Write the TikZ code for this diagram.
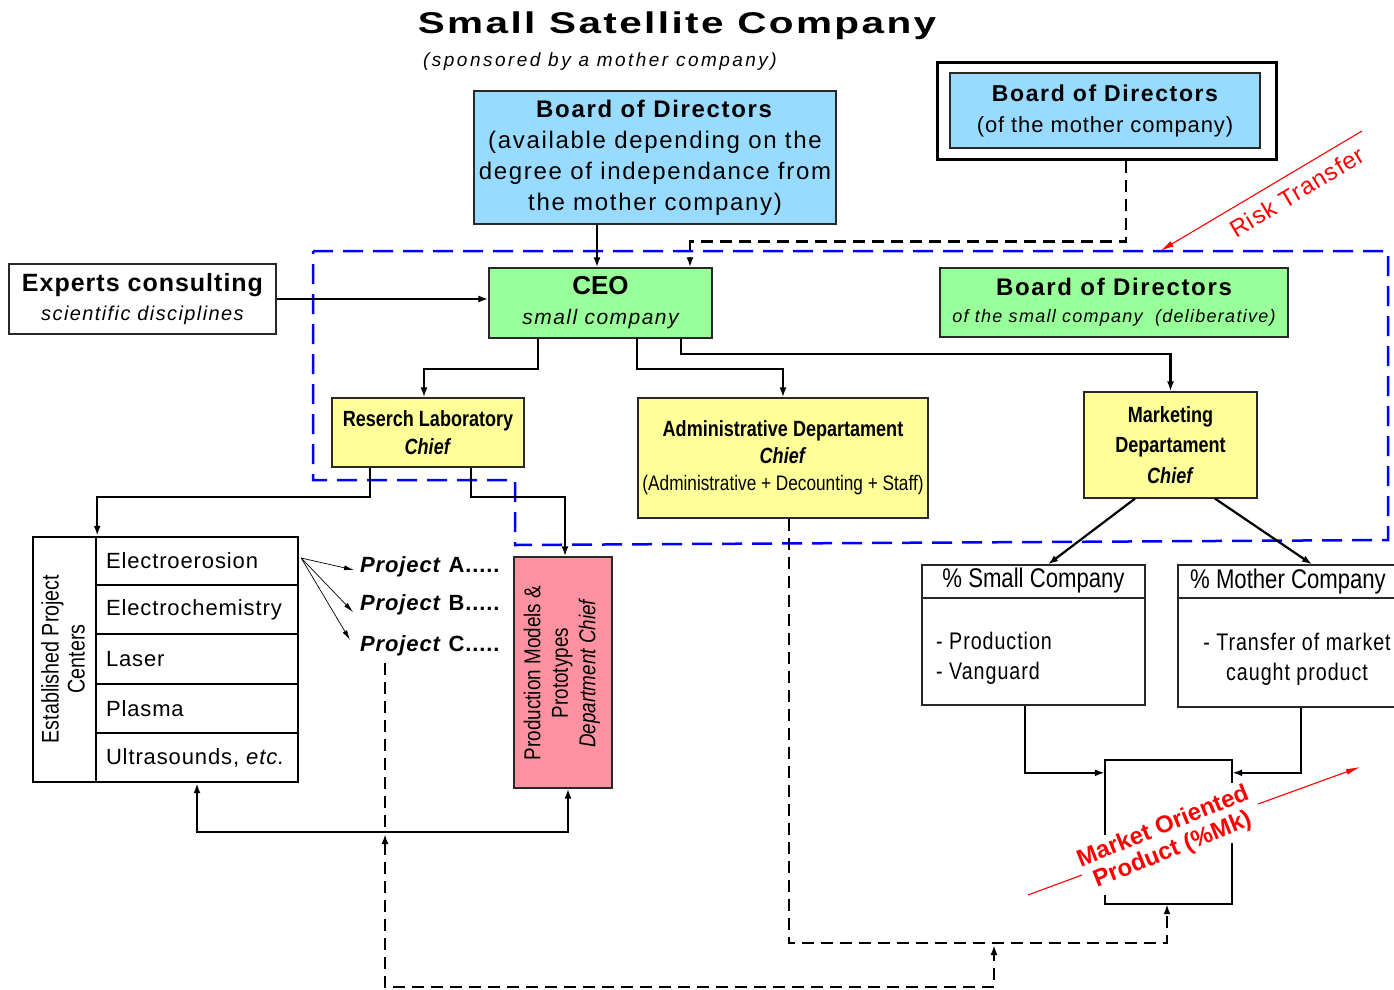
\documentclass[tikz,border=0pt]{standalone}
\usepackage{fontspec}
\setmainfont{Liberation Sans}
\newfontfamily\lsA[LetterSpace=4]{Liberation Sans}
\newfontfamily\lsB[LetterSpace=7]{Liberation Sans}
\newfontfamily\lsC[LetterSpace=13]{Liberation Sans}
\newfontfamily\nrw[FakeStretch=0.82]{Liberation Sans}
\newfontfamily\nrwsp[FakeStretch=0.82,LetterSpace=4]{Liberation Sans}
\newfontfamily\ttl[FakeStretch=1.35,LetterSpace=8]{Liberation Sans}
\usetikzlibrary{arrows.meta,calc}
\newcommand\fsz[2]{\fontsize{#1}{#2}\selectfont}
\definecolor{lblue}{RGB}{153,219,255}
\definecolor{lgreen}{RGB}{153,255,153}
\definecolor{lyellow}{RGB}{255,255,153}
\definecolor{lpink}{RGB}{255,146,160}
\definecolor{bord}{RGB}{40,40,40}
\begin{document}
\begin{tikzpicture}[x=1pt,y=-1pt,
  box/.style={draw=bord,line width=1.2pt,inner sep=0pt,align=center},
  thick box/.style={draw=black,line width=2.4pt,inner sep=0pt},
  conn/.style={draw=black,line width=2.2pt,-{Latex[length=10pt,width=7pt]}},
  dline/.style={draw=black,line width=2.2pt,dash pattern=on 12pt off 7pt},
  dconn/.style={dline,-{Latex[length=10pt,width=7pt]}},
  bluedash/.style={draw=blue,line width=2.5pt,dash pattern=on 20pt off 10pt},
  thinarr/.style={draw=black,line width=0.7pt,-{Latex[length=10pt,width=5pt]}},
  redline/.style={draw=red,line width=1.1pt},
  redarr/.style={redline,-{Latex[length=14pt,width=6pt]}},
  txt/.style={inner sep=0pt,align=center},
  mkline/.style={draw=black,line width=2.4pt},
]
\path[use as bounding box] (0,0) rectangle (1394,989);
\clip (0,0) rectangle (1394,989);
\fill[white] (0,0) rectangle (1394,989);

% blue region
\draw[bluedash] (313,251) -- (1388,251) -- (1388,540) -- (515,545) -- (515,480) -- (313,480) -- cycle;

% titles
\node[txt] (title) at (677,26) {\ttl\bfseries\fsz{30}{30}Small Satellite Company};
\node[txt] (sub) at (600,62) {\lsC\itshape\fsz{19}{19}(sponsored by a mother company)};

% boards
\node[box,fill=lblue,minimum width=362pt,minimum height=133pt,font=\lsB\fsz{24}{31}] (bod) at (655,157.5)
  {\textbf{Board of Directors}\\(available depending on the\\degree of independance from\\the mother company)};
\node[draw=black,line width=3pt,fill=white,minimum width=339pt,minimum height=97pt,inner sep=0pt] (mo) at (1106.5,110.5) {};
\node[box,fill=lblue,minimum width=310pt,minimum height=75pt,font=\lsA\fsz{22}{31}] (moi) at (1105,110.5)
  {{\lsB\bfseries\fsz{23}{31}Board of Directors}\\(of the mother company)};

\node[box,fill=white,minimum width=267pt,minimum height=70pt,font=\fsz{20}{29}] (ex) at (142.5,299)
  {{\lsA\bfseries\fsz{25}{29}Experts consulting}\\{\lsB\itshape scientific disciplines}};
\node[box,fill=lgreen,minimum width=223pt,minimum height=70pt,font=\fsz{21}{30}] (ceo) at (600.5,303)
  {{\bfseries\fsz{26}{30}CEO}\\{\lsB\itshape small company}};
\node[box,fill=lgreen,minimum width=348pt,minimum height=69pt,font=\lsB\fsz{18}{27}] (bods) at (1114,302.5)
  {{\bfseries\fsz{24}{27}Board of Directors}\\{\itshape of the small company\ \ (deliberative)}};

% departments
\node[box,fill=lyellow,minimum width=192pt,minimum height=69pt,font=\nrw\bfseries\fsz{22}{28}] (res) at (428,432.5)
  {Reserch Laboratory\\\textit{Chief}};
\node[box,fill=lyellow,minimum width=290pt,minimum height=120pt,font=\nrw\bfseries\fsz{22}{27}] (adm) at (783,458)
  {Administrative Departament\\\textit{Chief}\\{\mdseries\fsz{21}{27}(Administrative + Decounting + Staff)}};
\node[box,fill=lyellow,minimum width=173pt,minimum height=106pt,font=\nrw\bfseries\fsz{22}{30.5}] (mkt) at (1170.5,445)
  {Marketing\\Departament\\\textit{Chief}};

% established project centers
\node[thick box,minimum width=63pt,minimum height=245pt] (lc) at (64.5,659.5) {};
\node[txt,rotate=90,font=\nrw\fsz{24}{26}] (lct) at (63,659) {Established Project\\Centers};
\node[thick box,minimum width=202pt,minimum height=48pt] (r1) at (197,561) {};
\node[thick box,minimum width=202pt,minimum height=49pt] (r2) at (197,609.5) {};
\node[thick box,minimum width=202pt,minimum height=50pt] (r3) at (197,659) {};
\node[thick box,minimum width=202pt,minimum height=49pt] (r4) at (197,708.5) {};
\node[thick box,minimum width=202pt,minimum height=49pt] (r5) at (197,757.5) {};
\node[txt,anchor=west,font=\lsA\fsz{22}{26}] (t1) at ([xshift=11pt]r1.west) {Electroerosion};
\node[txt,anchor=west,font=\lsA\fsz{22}{26}] (t2) at ([xshift=11pt]r2.west) {Electrochemistry};
\node[txt,anchor=west,font=\lsA\fsz{22}{26}] (t3) at ([xshift=11pt]r3.west) {Laser};
\node[txt,anchor=west,font=\lsA\fsz{22}{26}] (t4) at ([xshift=11pt]r4.west) {Plasma};
\node[txt,anchor=west,font=\lsA\fsz{22}{26}] (t5) at ([xshift=11pt]r5.west) {Ultrasounds, \textit{etc.}};

% projects
\node[txt,anchor=west,font=\lsA\bfseries\fsz{22}{26}] (pa) at (360,567) {\textit{Project} A.....};
\node[txt,anchor=west,font=\lsA\bfseries\fsz{22}{26}] (pb) at (360,605) {\textit{Project} B.....};
\node[txt,anchor=west,font=\lsA\bfseries\fsz{22}{26}] (pc) at (360,646) {\textit{Project} C.....};
\coordinate (ps) at ([xshift=2pt,yshift=3pt]r1.east);
\draw[thinarr] (ps) -- ([xshift=-6pt,yshift=-3pt]pa.west);
\draw[thinarr] (ps) -- ([xshift=-7pt,yshift=-7pt]pb.west);
\draw[thinarr] (ps) -- ([xshift=-10pt,yshift=6pt]pc.west);

% production models
\node[box,fill=lpink,minimum width=98pt,minimum height=231pt] (red) at (563,672.5) {};
\node[txt,rotate=90,font=\nrw\fsz{23}{27.5}] (redt) at (562,673) {Production Models \&\\Prototypes\\\textit{Department Chief}};

% percentage boxes
\node[box,fill=white,minimum width=223pt,minimum height=140pt] (sc) at (1033.5,635) {};
\draw[draw=bord,line width=1.2pt] (sc.west |- 0,598) -- (sc.east |- 0,598);
\node[txt,font=\nrw\fsz{27}{30}] (sch) at (1033.5,581) {\% Small Company};
\node[txt,anchor=west,align=left,font=\nrwsp\fsz{24}{30}] (scb) at (936,658) {- Production\\- Vanguard};
\node[box,fill=white,minimum width=220pt,minimum height=142pt] (mc) at (1288,636) {};
\draw[draw=bord,line width=1.2pt] (mc.west |- 0,598) -- (mc.east |- 0,598);
\node[txt,font=\nrw\fsz{27}{30}] (mch) at (1288,582) {\% Mother Company};
\node[txt,font=\nrwsp\fsz{24}{30}] (mcb) at (1297,659) {- Transfer of market\\caught product};

% market oriented product box
\node[inner sep=0pt,minimum width=127pt,minimum height=144pt] (mk) at (1168.5,832) {};
\draw[mkline] ([yshift=-75pt]mk.north west) -- (mk.north west) -- (mk.north east) -- ([yshift=-23pt]mk.north east);
\draw[mkline] ([yshift=9pt]mk.south west) -- (mk.south west) -- (mk.south east) -- ([yshift=61pt]mk.south east);
\node[txt,rotate=22,text=red,font=\bfseries\fsz{24}{25}] (mot) at (1168,839) {Market Oriented\\Product (\%Mk)};
\coordinate (m1) at (1028,895);
\coordinate (m2) at (1082,875);
\coordinate (m3) at (1258,804);
\coordinate (m4) at (1360,767);
\draw[redline] (m1) -- (m2);
\draw[redarr] (m3) -- (m4);

% risk transfer
\coordinate (rk1) at (1362,131);
\coordinate (rk2) at (1160,251);
\draw[redarr] (rk1) -- (rk2);
\node[txt,rotate=31,text=red,font=\lsA\fsz{24}{24}] (rkt) at (1297,192) {Risk Transfer};

% connectors
\draw[conn] ([xshift=-58pt]bod.south) -- ([xshift=-58pt]bod.south |- ceo.north);
\draw[dconn] ([xshift=19.5pt]mo.south) -- ++(0,81) -| ([xshift=89.5pt]ceo.north);
\draw[conn] (ex.east) -- (ex.east -| ceo.west);
\draw[conn] ([xshift=-62.5pt]ceo.south) -- ++(0,30) -| ([xshift=-4pt]res.north);
\draw[conn] ([xshift=36.5pt]ceo.south) -- ++(0,30) -| (adm.north);
\draw[conn] ([xshift=80.5pt]ceo.south) -- ++(0,15) -| (mkt.north);
\draw[conn] ([xshift=-58pt]res.south) -- ++(0,29) -| (lc.north east);
\draw[conn] ([xshift=43pt]res.south) -- ++(0,29) -| ([xshift=2pt]red.north);
\coordinate (j) at (385,832);
\draw[conn] (j) -| (r5.south);
\draw[conn] (j) -| ([xshift=5pt]red.south);
\draw[dline] ($(pc.south -| j)+(0,7)$) -- (j);
\coordinate (k) at (994,943);
\draw[dline,{Latex[length=10pt,width=7pt]}-{Latex[length=10pt,width=7pt]}] ([yshift=-2pt]j) -- (j |- 0,987) -| ([yshift=-2pt]k);
\draw[dconn] ([xshift=6pt]adm.south) -- ([xshift=6pt]adm.south |- k) -| ([xshift=-1.5pt]mk.south);
\draw[conn] ([xshift=-8.5pt]sc.south) |- ([yshift=-13pt]mk.north west);
\draw[conn] ([xshift=13pt]mc.south) |- ([yshift=-13pt]mk.north east);
\draw[conn] ([xshift=-35.5pt]mkt.south) -- ([xshift=14.5pt]sc.north);
\draw[conn] ([xshift=44.5pt]mkt.south) -- ([xshift=24pt]mc.north);
\end{tikzpicture}
\end{document}
